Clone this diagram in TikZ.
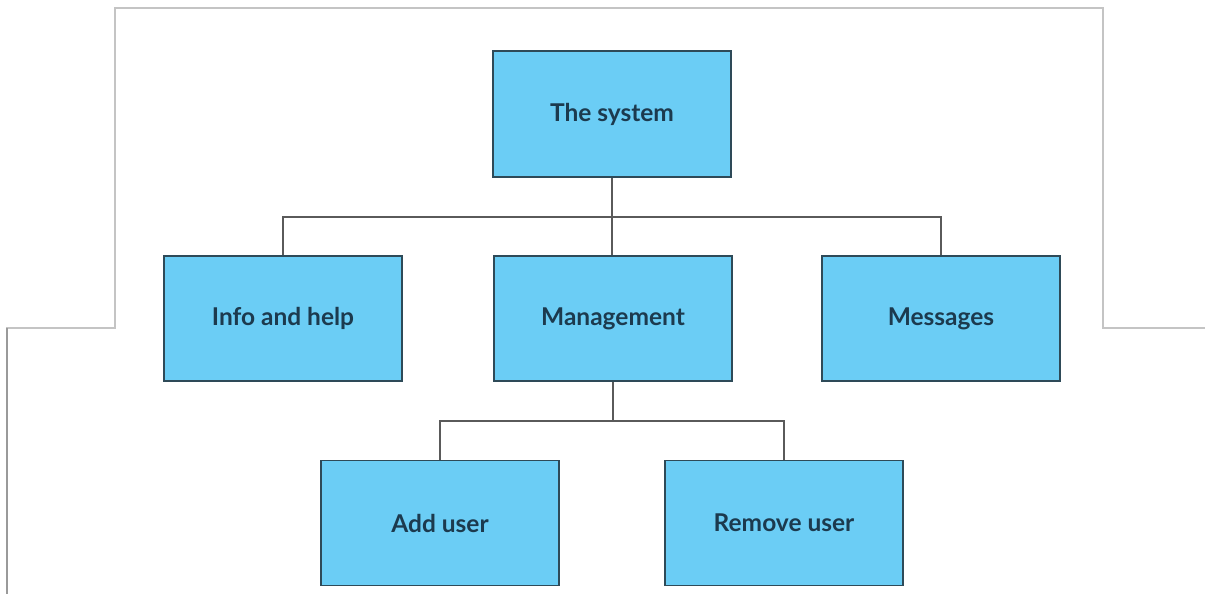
\documentclass[tikz,border=0pt]{standalone}
\usepackage{fontspec}
\setmainfont{Lato}
\definecolor{boxfill}{HTML}{6BCDF5}
\definecolor{boxline}{HTML}{2E4A58}
\definecolor{txt}{HTML}{1C3A4E}
\definecolor{conn}{HTML}{5A5A5A}
\definecolor{frame}{HTML}{C4C4C4}
\definecolor{framedark}{HTML}{9A9A9A}
\tikzset{
  boxnode/.style={draw=boxline, fill=boxfill, line width=1.8pt, minimum width=238pt,
    minimum height=125pt, inner sep=0pt, text=txt, font=\fontsize{24.5}{28}\selectfont\bfseries},
  connector/.style={draw=conn, line width=1.8pt},
  frameline/.style={draw=frame, line width=1.5pt},
}
\begin{document}
\begin{tikzpicture}[x=1pt,y=-1pt]
\useasboundingbox[fill=white] (0,0) rectangle (1205,594);
% background frame
\draw[frameline] (7,594) -- (7,328) -- (115,328) -- (115,8) -- (1103,8) -- (1103,328) -- (1205,328);
\draw[draw=framedark, line width=1.5pt] (7,594) -- (7,328);
% boxes
\node[boxnode, minimum height=126pt] (sys) at (612,114) {The system};
\node[boxnode] (info) at (283,318.5) {Info and help};
\node[boxnode] (mgmt) at (613,318.5) {Management};
\node[boxnode] (msg) at (941,318.5) {Messages};
\node[boxnode] (add) at (440,523) {Add user};
\node[boxnode] (rem) at (784,523) {Remove user};
% connectors
\coordinate (j1) at (612,217);
\coordinate (j2) at (613,421);
\draw[connector] (sys.south) -- (j1);
\draw[connector] (info.north) |- (j1) -| (msg.north);
\draw[connector] (j1) -- (j1 |- mgmt.north);
\draw[connector] (mgmt.south) -- (j2);
\draw[connector] (add.north) |- (j2) -| (rem.north);
\end{tikzpicture}
\end{document}
